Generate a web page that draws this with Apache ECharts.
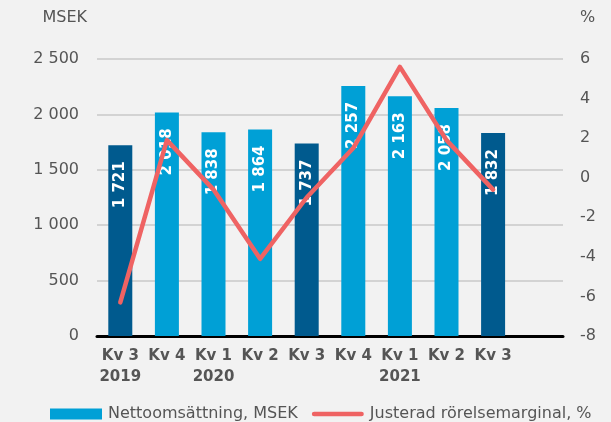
<!DOCTYPE html>
<html>
<head>
<meta charset="utf-8">
<script src="https://cdn.jsdelivr.net/npm/echarts@6/dist/echarts.min.js"></script>
<style>
html,body{margin:0;padding:0;background:#f2f2f2;}
#c{width:611px;height:422px;}
</style>
</head>
<body>
<div id="c"></div>
<script>
var categories = ['Kv 3\n2019','Kv 4','Kv 1\n2020','Kv 2','Kv 3','Kv 4','Kv 1\n2021','Kv 2','Kv 3',''];
var netSales = [1721, 2018, 1838, 1864, 1737, 2257, 2163, 2058, 1832];
var adjMargin = [-6.3, 1.9, -0.6, -4.1, -1.0, 1.5, 5.6, 1.9, -0.6];
var darkIdx = [0, 4, 8];
var leftTicks = {min: 0, max: 2500, interval: 500};
var rightTicks = {min: -8, max: 6, interval: 2};
var seriesNames = ['Nettoomsättning, MSEK', 'Justerad rörelsemarginal, %'];

var DARK = '#005a8e', LIGHT = '#00a0d6', RED = '#ef6363', TXT = '#555555';
var FONT = 'DejaVu Sans, sans-serif';

function fmt(v){ return String(v).replace(/\B(?=(\d{3})+(?!\d))/g, ' '); }

var chart = echarts.init(document.getElementById('c'));
chart.setOption({
  backgroundColor: '#f2f2f2',
  animation: false,
  textStyle: {fontFamily: FONT},
  grid: {left: 97, right: 48, top: 59, bottom: 86, containLabel: false},
  legend: {
    left: 45, top: 401,
    itemWidth: 52, itemHeight: 11, itemGap: 14,
    textStyle: {fontSize: 16, color: TXT, fontFamily: FONT, padding: [0,0,0,1]},
    data: [
      {name: seriesNames[0], icon: 'rect', itemStyle: {color: LIGHT}},
      {name: seriesNames[1], icon: 'path://M2.5,0 L52.5,0 A2.5,2.5 0 0 1 52.5,5 L2.5,5 A2.5,2.5 0 0 1 2.5,0 Z', itemStyle: {color: RED}}
    ]
  },
  xAxis: {
    type: 'category',
    data: categories,
    axisLine: {lineStyle: {color: '#000', width: 3}},
    axisTick: {show: false},
    axisLabel: {interval: 0, fontSize: 15, fontWeight: 'bold', color: TXT, lineHeight: 21, margin: 10, align: 'center'}
  },
  yAxis: [
    {
      type: 'value', min: leftTicks.min, max: leftTicks.max, interval: leftTicks.interval,
      name: 'MSEK', nameLocation: 'end', nameGap: 41,
      nameTextStyle: {fontSize: 16, color: TXT, align: 'right', verticalAlign: 'middle', padding: [0, 10, 0, 0]},
      axisLine: {show: false}, axisTick: {show: false},
      axisLabel: {fontSize: 16, color: TXT, margin: 18, formatter: function(v){return fmt(v);}},
      splitLine: {lineStyle: {color: '#c8c8c8', width: 1.5}}
    },
    {
      type: 'value', min: rightTicks.min, max: rightTicks.max, interval: rightTicks.interval,
      name: '%', nameLocation: 'end', nameGap: 41,
      nameTextStyle: {fontSize: 16, color: TXT, align: 'left', verticalAlign: 'middle', padding: [0, 0, 0, 17]},
      axisLine: {show: false}, axisTick: {show: false},
      axisLabel: {fontSize: 16, color: TXT, margin: 17},
      splitLine: {show: false}
    }
  ],
  series: [
    {
      name: seriesNames[0],
      type: 'bar',
      yAxisIndex: 0,
      barWidth: 24,
      itemStyle: {color: LIGHT},
      data: netSales.map(function(v, i){
        return {value: v, itemStyle: {color: darkIdx.indexOf(i) >= 0 ? DARK : LIGHT}};
      }),
      label: {
        show: true, position: 'insideTop', rotate: 90, distance: 16,
        align: 'right', verticalAlign: 'middle',
        color: '#fff', fontWeight: 'bold', fontSize: 15, fontFamily: FONT,
        formatter: function(p){ return fmt(p.value); }
      },
      z: 2
    },
    {
      name: seriesNames[1],
      type: 'line',
      yAxisIndex: 1,
      data: adjMargin,
      symbol: 'none',
      lineStyle: {color: RED, width: 4.5, cap: 'round', join: 'round'},
      itemStyle: {color: RED},
      z: 3
    }
  ]
});
</script>
</body>
</html>
